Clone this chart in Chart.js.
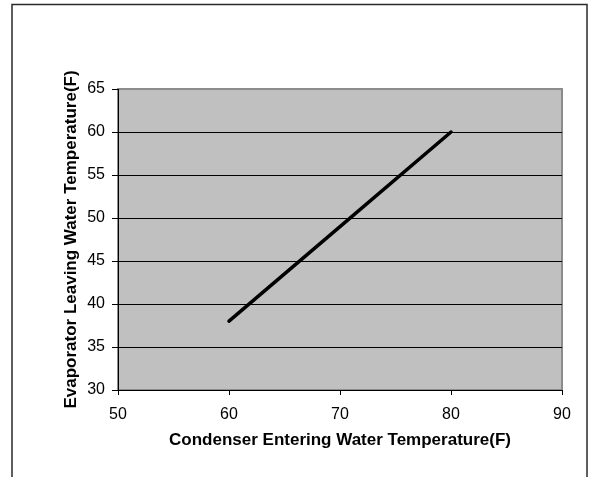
<!DOCTYPE html>
<html>
<head>
<meta charset="utf-8">
<script src="https://cdn.jsdelivr.net/npm/chart.js@4/dist/chart.umd.min.js"></script>
<style>
  html, body { margin: 0; padding: 0; background: #fff; }
  #chart { display: block; }
</style>
</head>
<body>
<canvas id="chart" width="595" height="477"></canvas>
<script>
// values
const condenserTemp = [60, 70, 80];
const evaporatorTemp = [38, 49, 60];
const xRange = [50, 90];
const yRange = [30, 65];
const xTitle = 'Condenser Entering Water Temperature(F)';
const yTitle = 'Evaporator Leaving Water Temperature(F)';

const fontFamily = '"Liberation Sans", Arial, sans-serif';

// plot background, plot border and outer frame
const framePlugin = {
  id: 'frame',
  beforeDraw(chart) {
    const ctx = chart.ctx;
    const a = chart.chartArea;
    ctx.save();
    ctx.fillStyle = '#fff';
    ctx.fillRect(0, 0, chart.width, chart.height);
    ctx.strokeStyle = '#2a2a2a';
    ctx.lineWidth = 1.5;
    ctx.strokeRect(12, 4.5, 575, chart.height + 10);
    ctx.fillStyle = '#c0c0c0';
    ctx.fillRect(a.left, a.top, a.right - a.left, a.bottom - a.top);
    ctx.strokeStyle = '#8c8c8c';
    ctx.lineWidth = 2;
    ctx.strokeRect(a.left, a.top, a.right - a.left, a.bottom - a.top);
    ctx.restore();
  }
};

const points = condenserTemp.map((x, i) => ({ x: x, y: evaporatorTemp[i] }));

new Chart(document.getElementById('chart'), {
  type: 'line',
  data: {
    datasets: [{
      data: points,
      borderColor: '#000',
      borderWidth: 3.5,
      borderCapStyle: 'round',
      pointRadius: 0,
      tension: 0
    }]
  },
  options: {
    responsive: false,
    devicePixelRatio: 1,
    animation: false,
    layout: { padding: { left: 0, top: 89, right: 33, bottom: 0 } },
    plugins: { legend: { display: false }, tooltip: { enabled: false } },
    scales: {
      x: {
        type: 'linear',
        min: xRange[0],
        max: xRange[1],
        afterFit(scale) { scale.height = 87; },
        ticks: {
          stepSize: 10,
          color: '#000',
          padding: 10,
          font: { family: fontFamily, size: 16 }
        },
        grid: {
          drawOnChartArea: false,
          drawTicks: true,
          tickLength: 5,
          tickColor: '#000'
        },
        border: { color: '#000', width: 1 },
        title: {
          display: true,
          text: xTitle,
          color: '#000',
          padding: { top: 0, bottom: 26 },
          font: { family: fontFamily, size: 17, weight: 'bold' }
        }
      },
      y: {
        min: yRange[0],
        max: yRange[1],
        afterFit(scale) { scale.width = 118; },
        ticks: {
          stepSize: 5,
          color: '#000',
          padding: 7,
          font: { family: fontFamily, size: 16 }
        },
        grid: {
          color: (c) => (c.tick && c.tick.value === yRange[1]) ? 'rgba(0,0,0,0)' : '#000',
          tickColor: '#000',
          tickLength: 6,
          lineWidth: 1
        },
        border: { color: '#000', width: 1 },
        title: {
          display: true,
          text: yTitle,
          color: '#000',
          padding: { top: 61, bottom: 0 },
          font: { family: fontFamily, size: 17, weight: 'bold' }
        }
      }
    }
  },
  plugins: [framePlugin]
});
</script>
</body>
</html>
